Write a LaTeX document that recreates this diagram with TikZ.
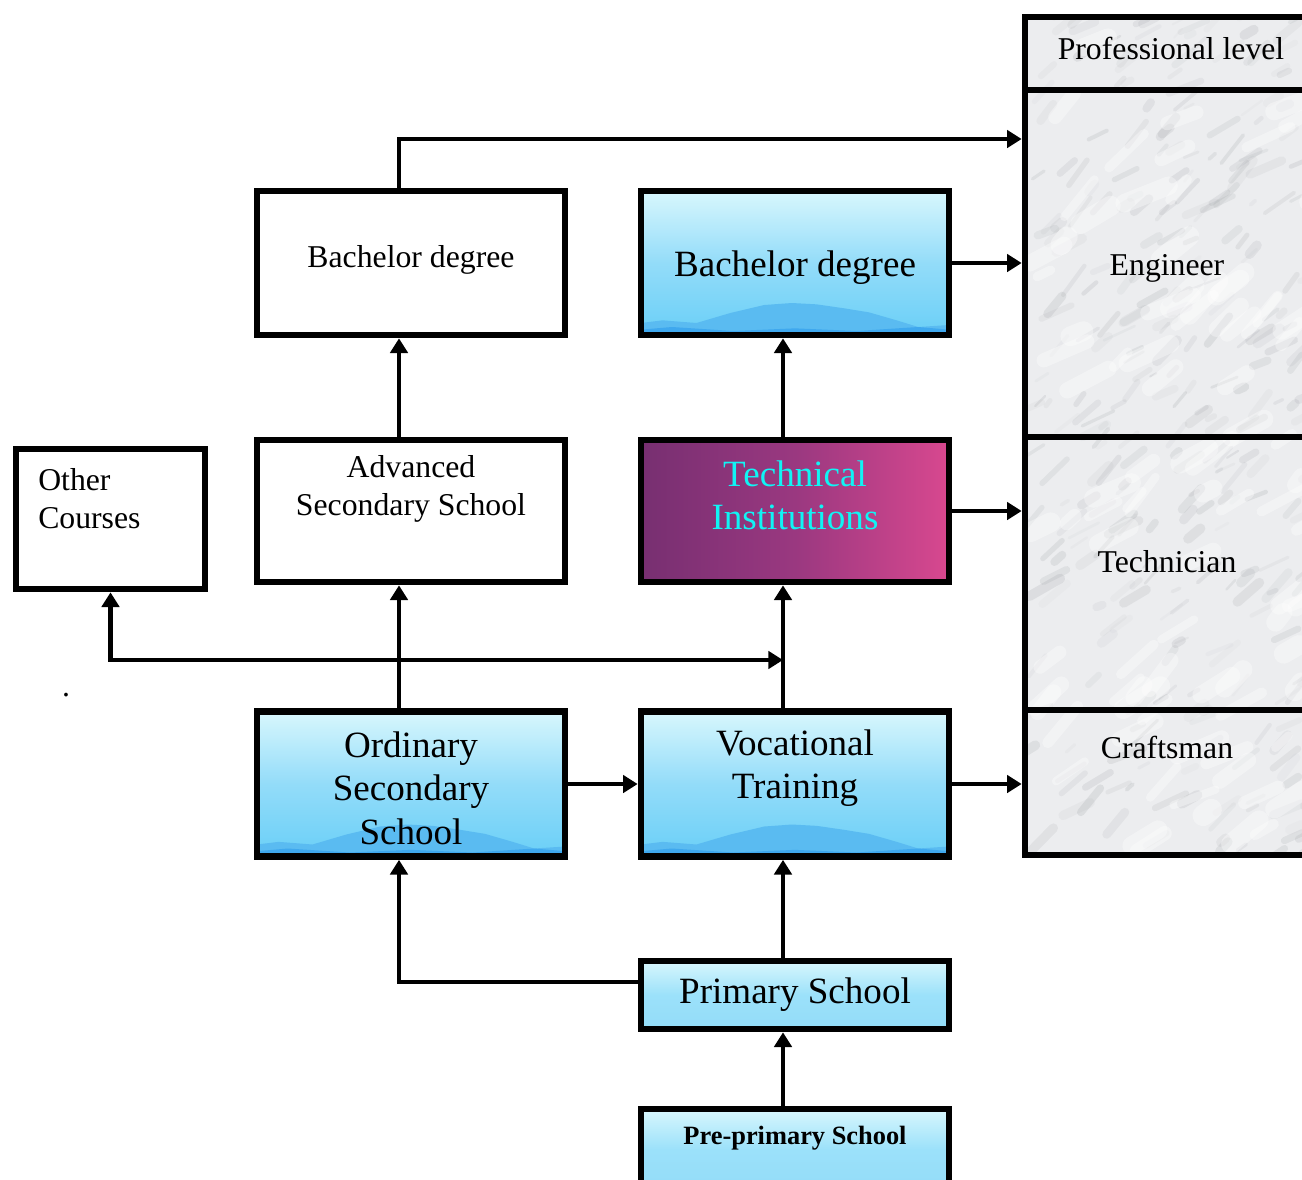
\documentclass[tikz,border=0pt]{standalone}
\usepackage{fontspec}
\setmainfont{Liberation Serif}
\usetikzlibrary{arrows.meta,calc,backgrounds}
\definecolor{bluetop}{HTML}{D8F7FD}
\definecolor{bluemid}{HTML}{93DCF9}
\definecolor{bluebot}{HTML}{6ACFF7}
\definecolor{bluemtnA}{HTML}{5ABBF1}
\definecolor{bluemtnB}{HTML}{3FA8EE}
\definecolor{techL}{HTML}{772F71}
\definecolor{techM}{HTML}{9A3880}
\definecolor{techR}{HTML}{D8488F}
\definecolor{techtext}{HTML}{10F4F4}
\definecolor{marble}{HTML}{ECEDEF}
\definecolor{vein}{HTML}{80848A}

\newcommand{\skyfill}[1]{%
  \begin{scope}[on background layer]
    \shade[top color=bluetop, bottom color=bluebot, middle color=bluemid] ([shift={(2.5pt,2.5pt)}]#1.south west) rectangle ([shift={(-2.5pt,-2.5pt)}]#1.north east);
    \fill[bluemtnA] let \p1=([shift={(2.5pt,2.5pt)}]#1.south west), \p2=([shift={(-2.5pt,-2.5pt)}]#1.north east), \n1={\x2-\x1} in
      (\x1,\y1) -- (\x1,{\y1+9pt}) -- ({\x1+0.07*\n1},{\y1+11pt}) -- ({\x1+0.18*\n1},{\y1+9pt})
      -- ({\x1+0.29*\n1},{\y1+16.5pt}) -- ({\x1+0.4*\n1},{\y1+22.5pt}) -- ({\x1+0.49*\n1},{\y1+24pt})
      -- ({\x1+0.57*\n1},{\y1+23pt}) -- ({\x1+0.66*\n1},{\y1+20pt}) -- ({\x1+0.74*\n1},{\y1+17pt})
      -- ({\x1+0.83*\n1},{\y1+11pt}) -- ({\x1+0.9*\n1},{\y1+6pt}) -- (\x2,{\y1+7.5pt}) -- (\x2,\y1) -- cycle;
    \fill[bluemtnB] let \p1=([shift={(2.5pt,2.5pt)}]#1.south west), \p2=([shift={(-2.5pt,-2.5pt)}]#1.north east), \n1={\x2-\x1} in
      (\x1,\y1) -- (\x1,{\y1+4pt}) -- ({\x1+0.1*\n1},{\y1+6pt}) -- ({\x1+0.3*\n1},{\y1+3pt})
      -- ({\x1+0.5*\n1},{\y1+5pt}) -- ({\x1+0.7*\n1},{\y1+3pt}) -- ({\x1+0.9*\n1},{\y1+6pt})
      -- (\x2,{\y1+4pt}) -- (\x2,\y1) -- cycle;
  \end{scope}}
\newcommand{\paleskyfill}[1]{%
  \begin{scope}[on background layer]
    \shade[top color=bluetop, bottom color=bluemid, middle color=bluebot!55!bluetop] ([shift={(2.5pt,2.5pt)}]#1.south west) rectangle ([shift={(-2.5pt,-2.5pt)}]#1.north east);
  \end{scope}}

\begin{document}
\begin{tikzpicture}[x=0.75pt,y=-0.75pt,
  box/.style={draw, line width=5pt, inner sep=0pt, rectangle},
  arr/.style={line width=3.4pt, -{Triangle[width=13pt,length=11pt]}},
  arrboth/.style={line width=3.4pt, {Triangle[width=13pt,length=11pt]}-{Triangle[width=13pt,length=11pt]}},
  small/.style={font=\fontsize{23.8}{28.5}\selectfont, align=center, inner sep=0pt},
  big/.style={font=\fontsize{27.8}{32.5}\selectfont, align=center, inner sep=0pt}]
\useasboundingbox (0,0) rectangle (1302,1179);

% boxes
\node[box, minimum width=231pt, minimum height=108pt] (bachW) at (411,263) {};
\node[box, minimum width=231pt, minimum height=108pt] (bachB) at (795,263) {};
\node[box, minimum width=141.75pt, minimum height=105pt] (other) at (110.5,519) {};
\node[box, minimum width=231pt, minimum height=106.5pt] (adv) at (411,511) {};
\node[box, minimum width=231pt, minimum height=106.5pt] (tech) at (795,511) {};
\node[box, minimum width=231pt, minimum height=108.75pt] (ord) at (411,784) {};
\node[box, minimum width=231pt, minimum height=108.75pt] (voc) at (795,784) {};
\node[box, minimum width=231pt, minimum height=51pt] (prim) at (795,995) {};
\node[box, minimum width=231pt, minimum height=60.75pt] (pre) at (795,1149.5) {};

% professional column
\node[box, minimum width=215.25pt, minimum height=54.75pt] (prof) at (1168.5,53.5) {};
\node[box, minimum width=215.25pt, minimum height=260.25pt] (eng) at (1168.5,263.5) {};
\node[box, minimum width=215.25pt, minimum height=204.75pt] (techn) at (1168.5,573.5) {};
\node[box, minimum width=215.25pt, minimum height=108.75pt] (craft) at (1168.5,782.5) {};

% backgrounds
\skyfill{bachB}
\skyfill{ord}
\skyfill{voc}
\paleskyfill{prim}
\paleskyfill{pre}
\begin{scope}[on background layer]
  \shade[left color=techL, right color=techR, middle color=techM] ([shift={(2.5pt,2.5pt)}]tech.south west) rectangle ([shift={(-2.5pt,-2.5pt)}]tech.north east);
  \fill[marble] ([shift={(2.5pt,-2.5pt)}]prof.north west) rectangle ([shift={(-2.5pt,2.5pt)}]craft.south east);
  \begin{scope}
    \clip ([shift={(2.5pt,-2.5pt)}]prof.north west) rectangle ([shift={(-2.5pt,2.5pt)}]craft.south east);
    \pgfmathsetseed{11}
    \foreach \i in {1,...,320}{
      \pgfmathsetmacro{\xa}{1025+rnd*290}
      \pgfmathsetmacro{\ya}{17+rnd*840}
      \pgfmathsetmacro{\ang}{-(20+rnd*35)}
      \pgfmathsetmacro{\len}{6+rnd*30}
      \pgfmathsetmacro{\op}{0.03+rnd*0.12}
      \pgfmathsetmacro{\lw}{1.5+rnd*6}
      \draw[vein, opacity=\op, line width=\lw pt, line cap=round] (\xa,\ya) -- ++(\ang:\len);
    }
    \foreach \i in {1,...,90}{
      \pgfmathsetmacro{\xa}{1025+rnd*290}
      \pgfmathsetmacro{\ya}{17+rnd*840}
      \pgfmathsetmacro{\ang}{-(20+rnd*35)}
      \pgfmathsetmacro{\len}{10+rnd*40}
      \pgfmathsetmacro{\lw}{6+rnd*10}
      \draw[white, opacity=0.35, line width=\lw pt, line cap=round] (\xa,\ya) -- ++(\ang:\len);
    }
  \end{scope}
\end{scope}

% texts
\node[small] (bachWt) at (411,260) {Bachelor degree};
\node[big] (bachBt) at (795,268) {Bachelor degree};
\node[small, align=left, anchor=west] (othert) at (38,499) {Other\\Courses};
\node[small] (advt) at (411,489) {Advanced\\Secondary School};
\node[big, text=techtext] (techt) at (795,495) {Technical\\Institutions};
\node[big] (ordt) at (411,788) {Ordinary\\Secondary\\School};
\node[big] (voct) at (795,768) {Vocational\\Training};
\node[big] (primt) at (795,995) {Primary School};
\node[font=\fontsize{19.8}{24}\selectfont\bfseries, inner sep=0pt] (pret) at (795,1138) {Pre-primary School};
\node[small] (proft) at (1171,48) {Professional level};
\node[small] (engt) at (1167,268) {Engineer};
\node[small] (techntt) at (1167,562) {Technician};
\node[small] (craftt) at (1167,747) {Craftsman};
\node[small, anchor=base] (dot) at (66,696) {.};

% connectors (vertical links run 12px left of the box centres)
\coordinate (engtop) at ($(eng.west)+(0,-124.5)$);
\coordinate (jn) at (110.5,660);
\coordinate (primleft) at ($(prim.west)+(0,-13)$);
\draw[arr] ([xshift=-9pt]bachW.north) |- (engtop);
\draw[arr] (bachB.east) -- (bachB.east -| eng.west);
\draw[arr] ([xshift=-9pt]adv.north) -- ([xshift=-9pt]bachW.south);
\draw[arr] ([xshift=-9pt]tech.north) -- ([xshift=-9pt]bachB.south);
\draw[arr] (tech.east) -- (tech.east -| techn.west);
\draw[arr] ([xshift=-9pt]ord.north) -- ([xshift=-9pt]adv.south);
\draw[arr] ([xshift=-9pt]voc.north) -- ([xshift=-9pt]tech.south);
\draw[arrboth] (other.south) |- ([xshift=-9pt]voc.north |- jn);
\draw[arr] (ord.east) -- (voc.west);
\draw[arr] (voc.east) -- (voc.east -| craft.west);
\draw[arr] (primleft) -| ([xshift=-9pt]ord.south);
\draw[arr] ([xshift=-9pt]prim.north) -- ([xshift=-9pt]voc.south);
\draw[arr] ([xshift=-9pt]pre.north) -- ([xshift=-9pt]prim.south);
\end{tikzpicture}
\end{document}
